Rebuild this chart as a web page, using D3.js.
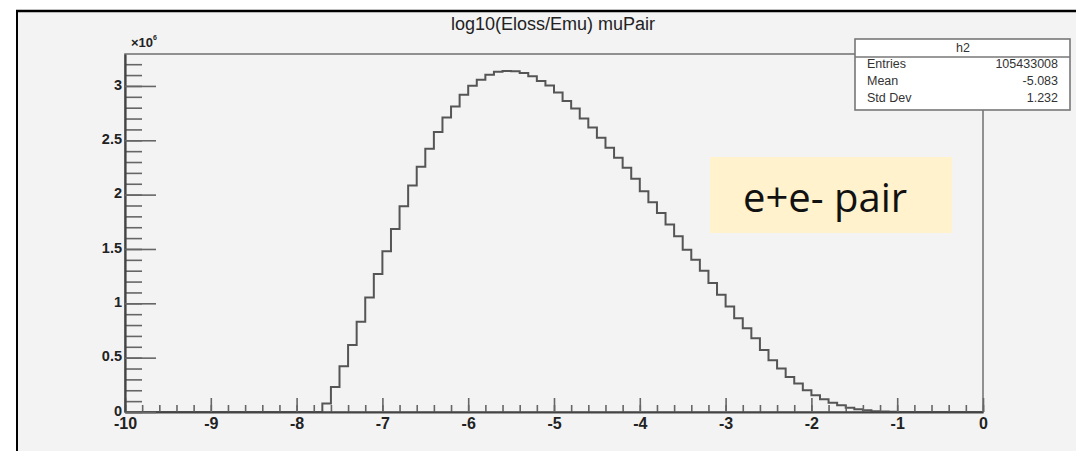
<!DOCTYPE html>
<html>
<head>
<meta charset="utf-8">
<script src="https://cdn.jsdelivr.net/npm/d3@7"></script>
<style>
  html, body { margin: 0; padding: 0; background: #ffffff; }
  svg { display: block; }
  .tick text { font-family: "Liberation Sans", Arial, sans-serif; font-weight: bold; fill: #222; }
</style>
</head>
<body>
<svg id="chart" width="1076" height="451"></svg>
<script>
// Histogram h2: log10(Eloss/Emu) for muon pair production, 0.1-wide bins on [-10, 0]
const axisRange = [-10, 0];
const binWidth = 0.1;
// lower edge of each filled bin
const binLowEdges = [
  -7.7, -7.6, -7.5, -7.4, -7.3, -7.2, -7.1, -7.0, -6.9, -6.8,
  -6.7, -6.6, -6.5, -6.4, -6.3, -6.2, -6.1, -6.0, -5.9, -5.8,
  -5.7, -5.6, -5.5, -5.4, -5.3, -5.2, -5.1, -5.0, -4.9, -4.8,
  -4.7, -4.6, -4.5, -4.4, -4.3, -4.2, -4.1, -4.0, -3.9, -3.8,
  -3.7, -3.6, -3.5, -3.4, -3.3, -3.2, -3.1, -3.0, -2.9, -2.8,
  -2.7, -2.6, -2.5, -2.4, -2.3, -2.2, -2.1, -2.0, -1.9, -1.8,
  -1.7, -1.6, -1.5, -1.4, -1.3, -1.2, -1.1, -1.0
];
// entries per bin, in units of 10^6
const binCounts = [
  0.078, 0.231, 0.422, 0.616, 0.831, 1.053, 1.269, 1.478, 1.684, 1.893,
  2.084, 2.257, 2.423, 2.576, 2.709, 2.811, 2.918, 3.001, 3.056, 3.102,
  3.130, 3.137, 3.134, 3.120, 3.088, 3.045, 3.004, 2.940, 2.862, 2.792,
  2.700, 2.617, 2.524, 2.432, 2.340, 2.247, 2.146, 2.031, 1.930, 1.832,
  1.724, 1.616, 1.493, 1.401, 1.300, 1.186, 1.078, 0.970, 0.862, 0.770,
  0.678, 0.570, 0.477, 0.401, 0.323, 0.262, 0.200, 0.154, 0.117, 0.086,
  0.062, 0.040, 0.025, 0.016, 0.007, 0.004, 0.002, 0.001
];
const xTickValues = [-10, -9, -8, -7, -6, -5, -4, -3, -2, -1, 0];
const xTickLabels = ["-10", "-9", "-8", "-7", "-6", "-5", "-4", "-3", "-2", "-1", "0"];
const yTickValues = [0, 0.5, 1, 1.5, 2, 2.5, 3];
const yTickLabels = ["0", "0.5", "1", "1.5", "2", "2.5", "3"];
const titleText = "log10(Eloss/Emu) muPair";
const statsName = "h2";
const statsLabels = ["Entries", "Mean", "Std Dev"];
const statsValues = ["105433008", "-5.083", "1.232"];
const noteText = "e+e- pair";

const svg = d3.select("#chart");
const W = 1076, H = 451;
const frame = { left: 125, right: 983, top: 54, bottom: 412 };

// canvas background and its dark border (top and left edges)
svg.append("rect").attr("x", 0).attr("y", 0).attr("width", W).attr("height", H).attr("fill", "#ffffff");
svg.append("rect").attr("x", 17).attr("y", 11).attr("width", W - 17).attr("height", H - 11).attr("fill", "#f3f3f3");
svg.append("line").attr("x1", 16).attr("x2", W).attr("y1", 11).attr("y2", 11)
  .attr("stroke", "#000").attr("stroke-width", 2.5);
svg.append("line").attr("x1", 17).attr("x2", 17).attr("y1", 10).attr("y2", H)
  .attr("stroke", "#000").attr("stroke-width", 2);

const yMax = 1.05 * d3.max(binCounts);
const x = d3.scaleLinear().domain(axisRange).range([frame.left, frame.right]);
const y = d3.scaleLinear().domain([0, yMax]).range([frame.bottom, frame.top]);

// frame box
svg.append("rect")
  .attr("x", frame.left).attr("y", frame.top)
  .attr("width", frame.right - frame.left).attr("height", frame.bottom - frame.top)
  .attr("fill", "none").attr("stroke", "#777").attr("stroke-width", 1.6);

// histogram outline
const pts = [[axisRange[0], 0]];
binLowEdges.forEach((e, i) => pts.push([e, binCounts[i]]));
pts.push([binLowEdges[binLowEdges.length - 1] + binWidth, 0]);
pts.push([axisRange[1], 0]);
const line = d3.line().x(d => x(d[0])).y(d => y(d[1])).curve(d3.curveStepAfter);
svg.append("path").attr("d", line(pts))
  .attr("fill", "none").attr("stroke", "#555").attr("stroke-width", 2)
  .attr("stroke-linejoin", "miter");

// x axis: minor ticks every 0.2, major every 1, all pointing into the frame
const xMinor = d3.range(-10, 0.001, 0.2).map(v => +v.toFixed(1));
svg.append("g").attr("transform", `translate(0,${frame.bottom})`)
  .call(d3.axisBottom(x).tickValues(xMinor).tickSize(-7).tickFormat(""))
  .call(g => g.select(".domain").remove())
  .call(g => g.selectAll("line").attr("stroke", "#666").attr("stroke-width", 1.6));
svg.append("g").attr("transform", `translate(0,${frame.bottom})`)
  .call(d3.axisBottom(x).tickValues(xTickValues).tickSizeInner(-14).tickSizeOuter(0).tickPadding(6)
    .tickFormat((d, i) => xTickLabels[i]))
  .call(g => g.select(".domain").attr("stroke", "#444").attr("stroke-width", 2.2))
  .call(g => g.selectAll("line").attr("stroke", "#666").attr("stroke-width", 1.6))
  .call(g => g.selectAll("text").attr("font-size", 16).attr("fill", "#222"));

// y axis: minor ticks every 0.1, major every 0.5
const yMinor = d3.range(0, yMax + 1e-6, 0.1).map(v => +v.toFixed(1));
svg.append("g").attr("transform", `translate(${frame.left},0)`)
  .call(d3.axisLeft(y).tickValues(yMinor).tickSize(-17).tickFormat(""))
  .call(g => g.select(".domain").remove())
  .call(g => g.selectAll("line").attr("stroke", "#666").attr("stroke-width", 1.6));
svg.append("g").attr("transform", `translate(${frame.left},0)`)
  .call(d3.axisLeft(y).tickValues(yTickValues).tickSizeInner(-31).tickSizeOuter(0).tickPadding(3)
    .tickFormat((d, i) => yTickLabels[i]))
  .call(g => g.select(".domain").attr("stroke", "#444").attr("stroke-width", 2.2))
  .call(g => g.selectAll("line").attr("stroke", "#666").attr("stroke-width", 1.6))
  .call(g => g.selectAll("text").attr("font-size", 14.5).attr("dy", "0.22em").attr("fill", "#222"));

// exponent label of the y axis
const expo = svg.append("text").attr("x", 131).attr("y", 47)
  .attr("font-family", "Liberation Sans, Arial, sans-serif").attr("font-weight", "bold")
  .attr("font-size", 13).attr("fill", "#222");
expo.append("tspan").text("\u00d710");
expo.append("tspan").attr("font-size", 7).attr("dy", -7).text("6");

// title
svg.append("text").attr("x", 553).attr("y", 30).attr("text-anchor", "middle")
  .attr("font-family", "Liberation Sans, Arial, sans-serif").attr("font-size", 18)
  .attr("fill", "#222").text(titleText);

// statistics box
const sb = { x: 855, y: 39, w: 215, h: 71, head: 18 };
const stats = svg.append("g");
stats.append("rect").attr("x", sb.x).attr("y", sb.y).attr("width", sb.w).attr("height", sb.h)
  .attr("fill", "#ffffff").attr("stroke", "#777").attr("stroke-width", 1.6);
stats.append("line").attr("x1", sb.x).attr("x2", sb.x + sb.w)
  .attr("y1", sb.y + sb.head).attr("y2", sb.y + sb.head)
  .attr("stroke", "#777").attr("stroke-width", 1.6);
stats.append("text").attr("x", sb.x + sb.w / 2 + 0.5).attr("y", sb.y + 12.5).attr("text-anchor", "middle")
  .attr("font-family", "Liberation Sans, Arial, sans-serif").attr("font-size", 12.5).attr("fill", "#333")
  .text(statsName);
statsLabels.forEach((lab, i) => {
  const by = sb.y + 29 + i * 16.8;
  stats.append("text").attr("x", sb.x + 12).attr("y", by)
    .attr("font-family", "Liberation Sans, Arial, sans-serif").attr("font-size", 12.5).attr("fill", "#333")
    .text(lab);
  stats.append("text").attr("x", sb.x + sb.w - 12).attr("y", by).attr("text-anchor", "end")
    .attr("font-family", "Liberation Sans, Arial, sans-serif").attr("font-size", 12.5).attr("fill", "#333")
    .text(statsValues[i]);
});

// annotation
svg.append("rect").attr("x", 710).attr("y", 157).attr("width", 242).attr("height", 76)
  .attr("fill", "#fff2cc");
svg.append("text").attr("x", 743).attr("y", 212)
  .attr("font-family", "Open Sans, Lato, sans-serif").attr("font-size", 40).attr("fill", "#111")
  .text(noteText);
</script>
</body>
</html>
